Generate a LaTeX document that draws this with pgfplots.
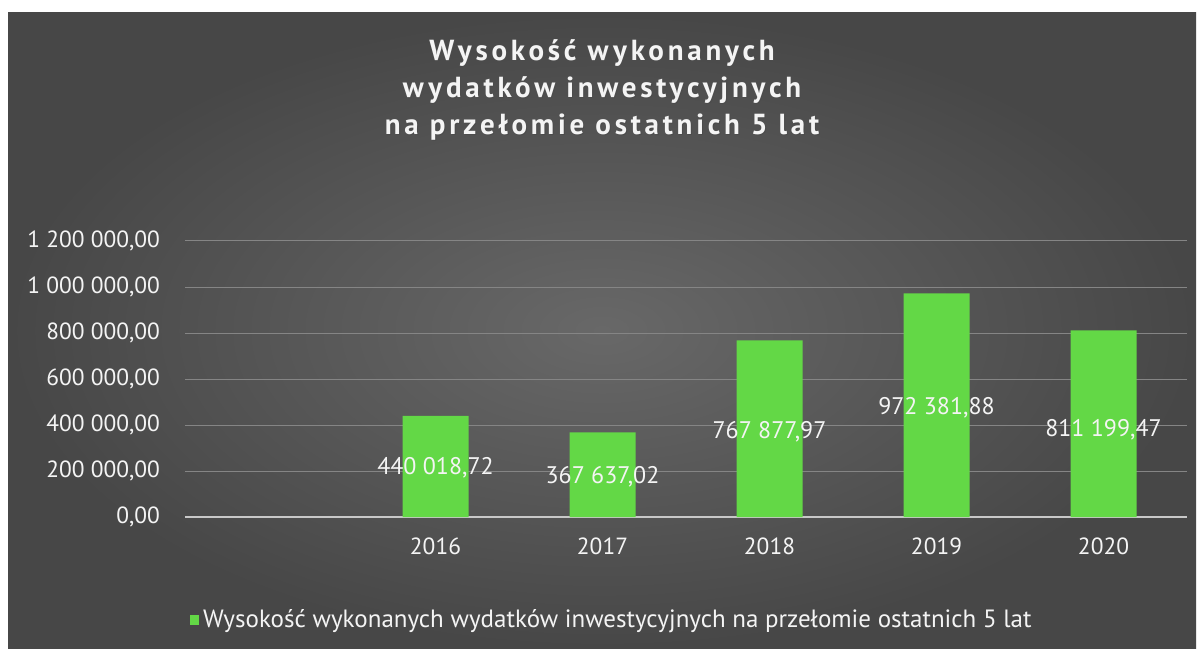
\documentclass[border=0pt]{standalone}
\usepackage{fontspec}
\setmainfont{PT Sans}
\newfontfamily\titlefont[LetterSpace=13]{PT Sans}
\usepackage{pgfplots}
\pgfplotsset{compat=1.18}
\definecolor{bargreen}{HTML}{63D846}
\definecolor{txt}{HTML}{F4F4F4}
\definecolor{gridc}{HTML}{858585}
\definecolor{basec}{HTML}{C8C8C8}
\definecolor{bgin}{HTML}{686868}
\definecolor{bgout}{HTML}{474747}
\begin{document}
\begin{tikzpicture}
\useasboundingbox (0,0) rectangle (602pt,324pt);
\fill[white] (0,0) rectangle (602pt,324pt);
\shade[inner color=bgin, outer color=bgout] (4pt,0) rectangle (598pt,317.5pt);
\node[text=black!70, font=\titlefont\bfseries\fontsize{14.5}{18.5}\selectfont, align=center] at (301.5pt,278.5pt) {Wysokość wykonanych\\wydatków inwestycyjnych\\na przełomie ostatnich 5 lat};
\node[text=txt, font=\titlefont\bfseries\fontsize{14.5}{18.5}\selectfont, align=center] at (301pt,279pt) {Wysokość wykonanych\\wydatków inwestycyjnych\\na przełomie ostatnich 5 lat};
\begin{axis}[
  at={(92.5pt,65.5pt)}, anchor=south west,
  scale only axis, width=501pt, height=138pt,
  xmin=-0.5, xmax=5.5, ymin=0, ymax=1200000,
  axis line style={draw=none},
  major tick length=0pt,
  xtick={1,2,3,4,5}, xticklabels={2016,2017,2018,2019,2020},
  ytick={0,200000,400000,600000,800000,1000000,1200000},
  yticklabels={{0,00},{200 000,00},{400 000,00},{600 000,00},{800 000,00},{1 000 000,00},{1 200 000,00}},
  extra y ticks={0}, extra y tick labels={},
  extra y tick style={grid style={draw=basec, line width=1pt}},
  ymajorgrids, grid style={draw=gridc, line width=0.5pt},
  tick label style={text=txt, font=\fontsize{11.7}{13}\selectfont},
  yticklabel style={xshift=-9pt},
  xticklabel style={yshift=-7pt},
  scaled y ticks=false,
  legend style={at={(rel axis cs:0.427,0)}, anchor=center, yshift=-51.5pt, draw=none, fill=none, text=txt, font=\fontsize{12.5}{14}\selectfont},
  legend image code/.code={\fill[bargreen] (0pt,-2.3pt) rectangle (4.5pt,2.3pt);},
]
\addplot[ybar, bar width=33pt, fill=bargreen, draw=none] coordinates {(1,440018.72) (2,367637.02) (3,767877.97) (4,972381.88) (5,811199.47)};
\addlegendentry{Wysokość wykonanych wydatków inwestycyjnych na przełomie ostatnich 5 lat}
\addplot[draw=none, mark=none, forget plot, nodes near coords, point meta=explicit symbolic,
  every node near coord/.append style={anchor=center, text=txt, font=\fontsize{12}{13}\selectfont}]
  coordinates {(1,213000) [440 018,72] (2,174000) [367 637,02] (3,369500) [767 877,97] (4,474000) [972 381,88] (5,378000) [811 199,47]};
\end{axis}
\end{tikzpicture}
\end{document}
